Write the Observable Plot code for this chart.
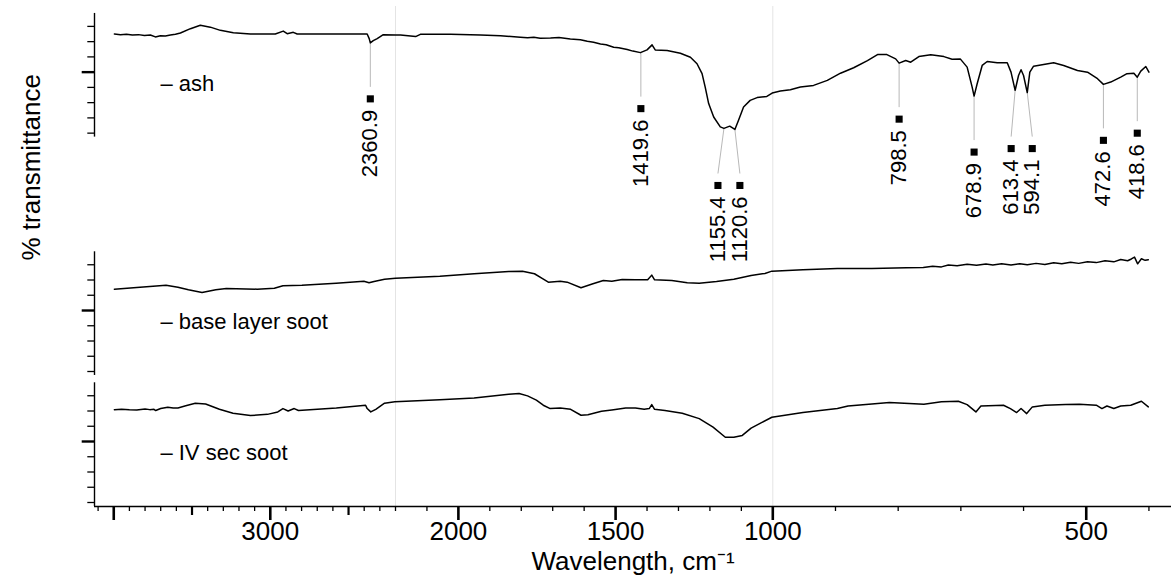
<!DOCTYPE html>
<html>
<head>
<meta charset="utf-8">
<script src="https://cdn.jsdelivr.net/npm/d3@7"></script>
<script src="https://cdn.jsdelivr.net/npm/@observablehq/plot@0.6"></script>
<style>
  html, body { margin: 0; padding: 0; background: #fff; }
  #chart { width: 1171px; height: 581px; }
</style>
</head>
<body>
<div id="chart"></div>
<script>
// ---------------- DATA ----------------
const sampleNames = ["ash", "base layer soot", "IV sec soot"];

// ash spectrum: wavenumber (cm-1) and % transmittance (arbitrary)
const ashWn = [3996,3957,3919,3881,3842,3804,3766,3734,3702,3670,3638,3606,3574,3510,3447,3383,3319,3236,3127,2968,2917,2892,2853,2828,2617,2381,2368,2360.9,2342,2317,2278,2200,2184,2136,2121,2025,1930,1866,1803,1780,1760,1740,1707,1680,1644,1612,1590,1570,1548,1530,1506,1490,1463,1445,1421,1400,1384,1374,1336,1294,1262,1241,1225,1215,1204,1188,1167,1155.4,1137,1120.6,1109,1093,1072,1050,1019,1002,988,972,956,935,913,892,871,849,833,818,804,798.5,788,780,767,748,727,714,701,690,682,678.9,674,666,658,642,626,620,613.4,608,604,600,594.1,590,584,568,552,536,514,498,482,472.6,461,445,435,424,418.6,413,405,400];
const ashT  = [75.0,74.6,74.9,74.4,74.6,74.1,74.4,73.1,73.9,73.7,74.4,74.8,75.7,78.5,80.7,79.5,77.4,75.9,75.0,75.0,76.9,75.2,76.1,75.0,75.0,75.0,72.0,69.2,70.7,72.0,74.6,74.4,74.4,73.3,74.8,74.8,74.4,73.9,72.9,72.5,72.9,72.3,72.4,72.7,71.8,71.3,70.2,69.6,68.5,68.0,66.3,66.0,64.8,63.8,62.8,64.6,67.9,64.6,64.2,62.4,59.8,55.5,49.0,40.2,29.4,20.6,14.1,13.1,14.6,12.4,18.5,27.2,31.5,33.3,34.1,36.3,37.6,38.5,40.2,41.3,44.6,49.3,52.9,57.6,61.5,61.5,58.7,55.9,57.6,56.5,60.2,61.4,60.2,58.5,58.7,53.3,40.2,34.3,42.4,54.4,57.0,56.1,56.1,50.0,38.1,47.8,51.6,47.8,36.6,50.0,53.9,55.0,56.1,54.4,51.1,50.0,45.7,42.0,43.5,46.7,49.0,49.3,46.7,50.7,53.7,50.0];

// base layer soot spectrum
const baseWn = [3996,3853,3666,3590,3523,3436,3348,3281,3084,2974,2919,2798,2579,2402,2369,2337,2270,2200,2059,1950,1840,1796,1758,1731,1714,1676,1654,1610,1572,1539,1512,1479,1437,1398,1385,1376,1321,1272,1234,1179,1124,1069,1025,1003,952,897,842,787,760,745,731,720,706,690,675,660,649,635,620,606,594,580,566,552,539,525,512,498,484,470,456,445,434,428,423,418,412,406,401];
const baseT  = [64.0,65.1,66.6,65.3,63.6,61.8,63.6,64.4,64.0,64.6,66.2,66.6,67.9,69.2,68.2,69.0,70.5,71.2,72.5,74.1,75.6,75.8,74.1,70.8,68.6,69.2,68.6,64.9,67.5,69.7,69.2,70.3,70.1,70.1,73.2,70.1,69.7,68.2,67.9,69.0,70.5,73.0,74.3,75.8,76.7,77.6,77.6,78.0,78.2,79.0,78.6,79.9,79.4,80.3,79.7,80.5,79.9,80.6,79.8,80.7,80.0,80.9,80.2,81.3,80.6,81.6,80.9,82.0,81.4,82.6,81.9,83.4,82.6,83.8,85.0,80.6,83.9,82.9,83.3];

// IV sec soot spectrum
const ivWn = [3996,3950,3900,3853,3800,3770,3743,3732,3700,3655,3620,3590,3540,3479,3413,3325,3238,3127,3018,2952,2919,2886,2847,2820,2578,2391,2381,2358,2326,2270,2204,2059,1950,1840,1807,1780,1752,1730,1708,1676,1643,1610,1588,1545,1512,1468,1437,1409,1393,1385,1376,1343,1288,1234,1190,1151,1124,1097,1069,1036,1003,952,897,880,842,814,759,731,704,690,676,668,632,621,611,604,595,586,566,533,511,484,475,467,456,445,429,412,401];
const ivT  = [70.9,71.2,70.8,70.7,71.3,70.9,71.1,70.3,71.6,72.5,71.9,72.0,73.4,75.1,74.6,71.1,68.5,67.0,67.8,69.4,71.6,70.0,71.6,70.3,72.0,73.8,71.6,69.4,71.1,75.1,76.0,77.3,78.6,81.0,81.5,79.9,77.1,73.8,71.6,72.0,71.1,67.2,67.6,69.8,70.7,72.0,72.0,71.1,71.6,74.2,71.1,70.3,68.5,65.0,59.4,52.8,52.8,54.0,58.8,62.4,65.9,69.0,71.6,73.3,74.6,75.6,74.4,76.0,76.4,74.2,69.4,73.3,73.8,71.6,69.0,71.6,68.3,72.7,73.8,74.2,74.4,73.8,71.6,73.3,71.6,73.3,73.8,76.4,72.7];

// labelled ash peaks
const peakWn = [2360.9, 1419.6, 1155.4, 1120.6, 798.5, 678.9, 613.4, 594.1, 472.6, 418.6];
const peakT  = [69.2, 62.8, 13.1, 12.4, 55.9, 34.3, 38.1, 36.6, 42.0, 46.7];
const peakLabels = ["2360.9", "1419.6", "1155.4", "1120.6", "798.5", "678.9", "613.4", "594.1", "472.6", "418.6"];

// x axis ticks
const xLabelTicks = [3000, 2000, 1500, 1000, 500];
const xTickLabels = ["3000", "2000", "1500", "1000", "500"];
const xMajorUnlabelled = [4000];
const xMediumTicks = [3500, 2500];

// ---------------- LAYOUT ----------------
const W = 1171, H = 581;
const pxPerT = 1.525;
const offsets = {"ash": 242.2, "base layer soot": 85.9, "IV sec soot": 0};
const spineT = [7.4, 88.5];
const legendT = 37.6;
const peakGroup = [0, 1, 2, 2, 3, 4, 5, 5, 6, 7];
const peakDxPx = [0, 0, -6, 5, 0, 0, -4, 5, 0, 0];

// segmented wavenumber axis (4000-2200, 2200-1000, 1000-400 at 1:2:4 expansion)
const xBreaks = [4123, 2200, 1000, 364];
const warp = d3.scaleLinear().domain(xBreaks).range([0, 301, 678.3, 1077]);
const xOpts = {transform: w => warp(w), domain: [0, 1077], range: [94, 1171]};
const yOpts = {domain: [0, 340], range: [517.25, 517.25 - 340 * pxPerT]};

const rows = [];
[[ashWn, ashT, "ash"], [baseWn, baseT, "base layer soot"], [ivWn, ivT, "IV sec soot"]].forEach(([wn, t, name]) => {
  wn.forEach((w, i) => rows.push({sample: name, wn: w, Y: t[i] + offsets[name]}));
});

// pixels -> wavenumber, used only to spread crowded labels
const pxPerWarp = (1171 - 94) / 1077;
const peaks = peakWn.map((wn, i) => {
  const g = peakGroup[i];
  const lowT = d3.min(peakT.filter((_, j) => peakGroup[j] === g));
  const sqY = lowT + offsets.ash - 56 / pxPerT;
  return {
    wn, Y: peakT[i] + offsets.ash,
    labWn: warp.invert(warp(wn) + peakDxPx[i] / pxPerWarp),
    sqY, lineEnd: sqY + 12 / pxPerT, textY: sqY - 11 / pxPerT,
    label: peakLabels[i]
  };
});

// axis marks take tick positions already in warped units
const minorX = d3.range(4100, 399, -100).filter(v => v % 500 !== 0).map(warp);
const labelTickPos = xLabelTicks.map(warp);
const labelFor = d => xTickLabels[labelTickPos.findIndex(p => Math.abs(p - d) < 1e-6)];
const yMinor = [], yMajor = [];
sampleNames.forEach(n => {
  [10, 20, 30, 40, 60, 70, 80].forEach(t => yMinor.push(t + offsets[n]));
  yMajor.push(50 + offsets[n]);
});

const chart = Plot.plot({
  width: W, height: H,
  marginLeft: 94, marginRight: 0, marginTop: 0, marginBottom: 75,
  style: {fontFamily: "'Liberation Sans', Arial, sans-serif", background: "#fff", color: "#000"},
  x: xOpts,
  y: yOpts,
  marks: [
    Plot.ruleX([2200, 1000], {y1: spineT[0], y2: (517.25 - 6) / pxPerT, stroke: "#e4e4e4", strokeWidth: 1}),
    Plot.ruleX(sampleNames, {x: xBreaks[0], y1: n => spineT[0] + offsets[n], y2: n => spineT[1] + offsets[n], stroke: "#000", strokeWidth: 1.4}),
    Plot.ruleY([spineT[0]], {stroke: "#000", strokeWidth: 1.4}),
    Plot.axisY({ticks: yMinor, tickSize: 6.7, tickFormat: () => "", label: null, strokeWidth: 1.3}),
    Plot.axisY({ticks: yMajor, tickSize: 12.3, tickFormat: () => "", label: null, strokeWidth: 2.4}),
    Plot.axisX({ticks: minorX, tickSize: 5, tickFormat: () => "", label: null, strokeWidth: 1.3}),
    Plot.axisX({ticks: xMediumTicks.map(warp), tickSize: 9, tickFormat: () => "", label: null, strokeWidth: 2.2}),
    Plot.axisX({ticks: xMajorUnlabelled.map(warp), tickSize: 14, tickFormat: () => "", label: null, strokeWidth: 2.6}),
    Plot.axisX({ticks: labelTickPos, tickSize: 14, tickPadding: 1, tickFormat: labelFor, label: null, strokeWidth: 2.6, fontSize: 26}),
    Plot.link(peaks, {x1: "wn", y1: "Y", x2: "labWn", y2: "lineEnd", stroke: "#b8b8b8", strokeWidth: 1}),
    Plot.line(rows, {x: "wn", y: "Y", z: "sample", stroke: "#000", strokeWidth: 1.5}),
    Plot.dot(peaks, {x: "labWn", y: "sqY", symbol: "square", r: 4, fill: "#000", stroke: null}),
    Plot.text(peaks, {x: "labWn", y: "textY", text: "label", rotate: -90, textAnchor: "end", fontSize: 22, fill: "#000"}),
    Plot.text(sampleNames, {x: 3702, y: n => legendT + offsets[n], text: n => "\u2013 " + n, textAnchor: "start", lineAnchor: "bottom", fontSize: 22, fill: "#000"}),
    Plot.text(["% transmittance"], {frameAnchor: "left", dx: -63, y: (517.25 - 260) / pxPerT, rotate: -90, fontSize: 26, fill: "#000"}),
    Plot.text(["Wavelength, cm\u207B\u00B9"], {frameAnchor: "bottom", dy: 63, lineAnchor: "bottom", fontSize: 26, fill: "#000"})
  ]
});
document.getElementById("chart").appendChild(chart);
</script>
</body>
</html>
